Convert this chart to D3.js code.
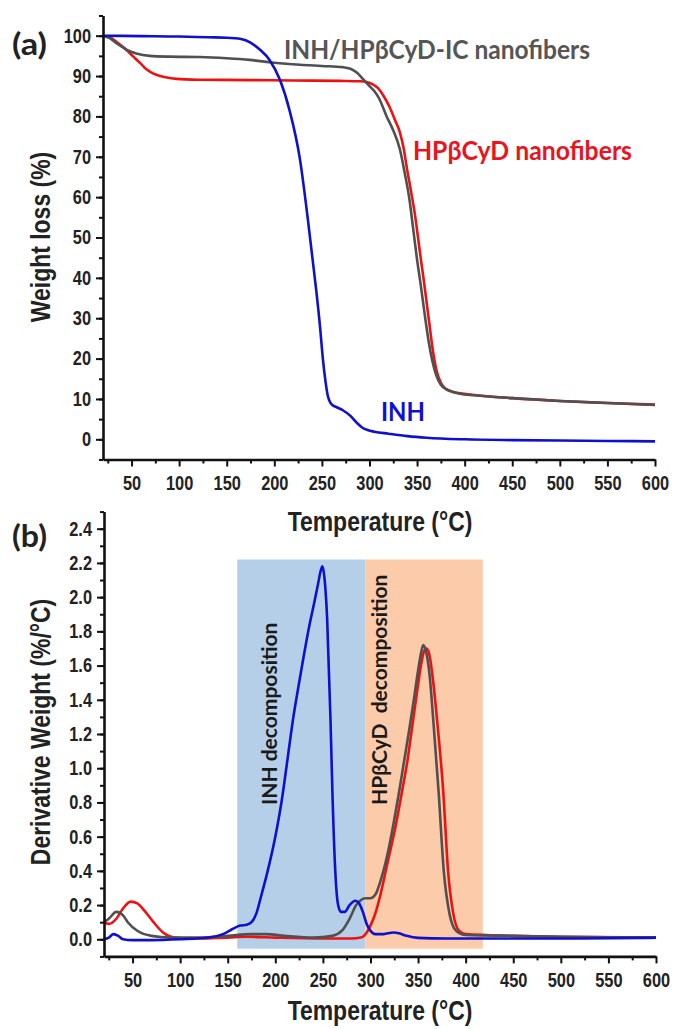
<!DOCTYPE html>
<html>
<head>
<meta charset="utf-8">
<script src="https://cdn.jsdelivr.net/npm/d3@7"></script>
<style>
body { margin: 0; background: #fff; }
svg { display: block; }
.axis path, .axis line { stroke: #111; }
.axis path { stroke-width: 2.6; }
.axis line { stroke-width: 2; }
.axis text { font-family: "Liberation Sans", Arial, sans-serif; font-size: 20px; font-weight: bold; fill: #222; }
.title { font-family: "Liberation Sans", Arial, sans-serif; font-size: 28px; font-weight: bold; fill: #222; }
.note { font-family: Lato, "Open Sans", sans-serif; font-weight: bold; }
.curve { fill: none; stroke-width: 2.6; stroke-linejoin: round; }
</style>
</head>
<body>
<div id="chart"></div>
<script>
var width = 674,
    height = 1029;

// narrow look of the original axis font
var squeeze = 0.82;

// ---- (a) TGA, weight (%) vs temperature
var inhTgaT = [20, 60, 100, 130, 150, 165, 175, 185, 195, 206, 216, 227, 235, 240, 244, 248, 251, 254, 256, 258, 261, 265, 272, 280, 287, 293, 298, 305, 320, 340, 360, 400, 450, 500, 550, 600];
var inhTgaW = [100, 99.9, 99.8, 99.6, 99.5, 99.2, 98.3, 96.5, 94, 89, 81.5, 69.3, 55, 45, 37, 28, 20, 14, 11, 9.5, 8.5, 8, 7.2, 5.8, 4, 2.8, 2.3, 1.9, 1.4, 0.8, 0.4, 0.0, -0.2, -0.3, -0.4, -0.5];

var hpTgaT = [20, 27, 34, 43, 52, 60, 66, 73, 80, 90, 97, 120, 174, 220, 269, 290, 297, 303, 309, 315, 321, 327, 332, 336, 339, 344, 348, 351, 354, 357, 360, 363, 366, 370, 375, 380, 387, 395, 410, 450, 500, 550, 600];
var hpTgaW = [100, 99.6, 98.5, 96.8, 94.8, 93, 91.6, 90.6, 90, 89.5, 89.3, 89.1, 89, 88.9, 88.8, 88.7, 88.5, 88, 87, 85, 82.4, 79, 76, 72, 67.6, 61, 55.3, 50, 44.6, 39.5, 34, 28.5, 23, 17.5, 14, 12.5, 11.8, 11.4, 11, 10.2, 9.5, 9, 8.6];

var icTgaT = [20, 27, 35, 45, 55, 69, 90, 122, 150, 174, 200, 227, 250, 272, 280, 287, 293, 300, 305, 310, 318, 325, 332, 337, 342, 346, 350, 354, 358, 362, 366, 370, 375, 380, 387, 395, 410, 450, 500, 550, 600];
var icTgaW = [100, 99.4, 98, 96.5, 95.6, 95, 94.8, 94.7, 94.4, 94, 93.3, 92.8, 92.5, 92.2, 91.8, 90.8, 89.3, 87.5, 86.3, 84.5, 80, 76.5, 71.8, 66, 59.4, 52, 44.5, 38, 31, 24.5, 19.5, 16, 13.5, 12.5, 11.8, 11.3, 10.9, 10.2, 9.5, 9, 8.5];

// ---- (b) DTG, derivative weight (%/°C)
var inhDtgT = [20, 25, 30, 35, 40, 50, 70, 100, 130, 145, 155, 163, 170, 175, 180, 185, 192, 200, 207, 213, 219, 225, 230, 236, 241, 245, 247.5, 249.5, 251.5, 254.5, 258, 260, 263, 266, 269, 273, 278, 284, 288, 292, 296, 300, 305, 312, 318, 324, 330, 338, 350, 380, 450, 520, 590, 600];
var inhDtgV = [0.0, 0.01, 0.03, 0.02, 0.0, -0.005, -0.005, 0.0, 0.01, 0.03, 0.06, 0.08, 0.085, 0.1, 0.15, 0.25, 0.4, 0.6, 0.82, 1.06, 1.3, 1.5, 1.66, 1.84, 1.97, 2.08, 2.15, 2.18, 2.12, 1.87, 1.28, 0.86, 0.4, 0.2, 0.16, 0.16, 0.2, 0.225, 0.21, 0.16, 0.09, 0.05, 0.03, 0.03, 0.035, 0.04, 0.035, 0.02, 0.008, 0.005, 0.005, 0.005, 0.008, 0.01];

var hpDtgT = [20, 25, 33, 40, 48, 55, 62, 72, 82, 95, 110, 150, 170, 200, 250, 280, 290, 296, 300, 305, 310, 318, 326, 333, 339, 344, 349, 353, 356, 359, 362, 366, 370, 376.5, 381.5, 387, 393, 400, 450, 500, 600];
var hpDtgV = [0.1, 0.09, 0.12, 0.18, 0.22, 0.21, 0.17, 0.1, 0.04, 0.01, 0.005, 0.01, 0.015, 0.01, 0.005, 0.005, 0.01, 0.04, 0.08, 0.15, 0.25, 0.45, 0.65, 0.86, 1.05, 1.25, 1.45, 1.6, 1.68, 1.70, 1.66, 1.5, 1.28, 0.86, 0.4, 0.15, 0.05, 0.03, 0.02, 0.015, 0.01];

var icDtgT = [20, 25, 33, 40, 45, 55, 70, 90, 120, 150, 175, 190, 210, 240, 260, 270, 278, 285, 290, 295, 300, 305, 311, 318, 325, 330, 335, 340, 345, 350, 353, 355.5, 358, 362, 366, 371.6, 377, 383, 390, 400, 450, 500, 550, 600];
var icDtgV = [0.1, 0.12, 0.16, 0.14, 0.1, 0.05, 0.02, 0.01, 0.01, 0.02, 0.03, 0.03, 0.02, 0.01, 0.02, 0.05, 0.12, 0.2, 0.23, 0.24, 0.24, 0.26, 0.35, 0.5, 0.7, 0.86, 1.03, 1.2, 1.38, 1.57, 1.67, 1.72, 1.69, 1.55, 1.28, 0.86, 0.4, 0.15, 0.05, 0.025, 0.02, 0.015, 0.012, 0.01];

// shaded regions in (b): [from, to] in °C
var inhBand = [160, 294.5];
var hpBand = [294.5, 418];
var bandRange = [-0.055, 2.22];

var xTicks = [50, 100, 150, 200, 250, 300, 350, 400, 450, 500, 550, 600];
var xMinor = d3.range(25, 600, 50);
var yaTicks = d3.range(0, 101, 10);
var yaMinor = d3.range(-5, 106, 5);
var ybTicks = [0, 0.2, 0.4, 0.6, 0.8, 1.0, 1.2, 1.4, 1.6, 1.8, 2.0, 2.2, 2.4];
var ybMinor = d3.range(-0.1, 2.51, 0.1);

var blue = "#1010cc",
    red = "#ee1111",
    gray = "#505050";

var svg = d3.select("#chart").append("svg")
    .attr("width", width)
    .attr("height", height);

svg.append("rect").attr("width", width).attr("height", height).attr("fill", "#fff");

var xa = d3.scaleLinear().domain([20, 600]).range([103, 655]);
var ya = d3.scaleLinear().domain([-5, 105]).range([459.5, 15.5]);
var xb = d3.scaleLinear().domain([20, 600]).range([104, 656]);
var yb = d3.scaleLinear().domain([-0.1, 2.5]).range([956.4, 511.6]);

function narrow(sel) {
    sel.selectAll("text")
        .attr("x", function() { return +this.getAttribute("x") / squeeze; })
        .attr("transform", "scale(" + squeeze + ",1)");
}

function drawAxes(x, y, yt, ym, fmt) {
    var y0 = y.range()[0],
        x0 = x.range()[0];
    // minor ticks first
    svg.append("g").attr("class", "axis minor")
        .attr("transform", "translate(0," + y0 + ")")
        .call(d3.axisBottom(x).tickValues(xMinor).tickSize(4).tickFormat(""))
        .select(".domain").remove();
    svg.append("g").attr("class", "axis minor")
        .attr("transform", "translate(" + x0 + ",0)")
        .call(d3.axisLeft(y).tickValues(ym).tickSize(4).tickFormat(""))
        .select(".domain").remove();

    svg.append("g").attr("class", "axis")
        .attr("transform", "translate(0," + y0 + ")")
        .call(d3.axisBottom(x).tickValues(xTicks).tickSize(7).tickSizeOuter(0).tickPadding(9))
        .call(narrow);
    svg.append("g").attr("class", "axis")
        .attr("transform", "translate(" + x0 + ",0)")
        .call(d3.axisLeft(y).tickValues(yt).tickSize(7).tickSizeOuter(0).tickPadding(5).tickFormat(fmt))
        .call(narrow);
}

function curve(x, y, ts, vs, color) {
    var line = d3.line()
        .x(function(d) { return x(d[0]); })
        .y(function(d) { return y(d[1]); })
        .curve(d3.curveMonotoneX);
    svg.append("path")
        .datum(d3.zip(ts, vs))
        .attr("class", "curve")
        .attr("stroke", color)
        .attr("d", line);
}

function note(x, y, size, color, len, txt) {
    return svg.append("text").attr("class", "note")
        .attr("x", x).attr("y", y)
        .attr("font-size", size).attr("fill", color)
        .attr("textLength", len).attr("lengthAdjust", "spacingAndGlyphs")
        .text(txt);
}

// ---------- panel (a)
curve(xa, ya, hpTgaT, hpTgaW, red);
curve(xa, ya, icTgaT, icTgaW, gray);
curve(xa, ya, inhTgaT, inhTgaW, blue);
drawAxes(xa, ya, yaTicks, yaMinor, d3.format("d"));

svg.append("text").attr("class", "title")
    .attr("transform", "translate(50,237) rotate(-90) scale(" + squeeze + ",1)")
    .attr("text-anchor", "middle")
    .text("Weight loss (%)");
svg.append("text").attr("class", "title")
    .attr("transform", "translate(380,531) scale(" + squeeze + ",1)")
    .attr("text-anchor", "middle")
    .text("Temperature (°C)");

note(12, 55, 31, "#222", 35, "(a)");
note(284, 59, 26, "#555", 306, "INH/HPβCyD-IC nanofibers");
note(413, 160, 26, "#e8141e", 219, "HPβCyD nanofibers");
note(381, 421, 26, "#1010d0", 44, "INH");

// ---------- panel (b)
svg.append("rect")
    .attr("x", xb(inhBand[0])).attr("y", yb(bandRange[1]))
    .attr("width", xb(inhBand[1]) - xb(inhBand[0]))
    .attr("height", yb(bandRange[0]) - yb(bandRange[1]))
    .attr("fill", "#b5cfe9");
svg.append("rect")
    .attr("x", xb(hpBand[0])).attr("y", yb(bandRange[1]))
    .attr("width", xb(hpBand[1]) - xb(hpBand[0]))
    .attr("height", yb(bandRange[0]) - yb(bandRange[1]))
    .attr("fill", "#fccbaa");

svg.append("text").attr("class", "note")
    .attr("transform", "translate(277,805) rotate(-90)")
    .attr("font-size", 21).attr("fill", "#1a1a1a")
    .text("INH decomposition");
svg.append("text").attr("class", "note")
    .attr("transform", "translate(387,805) rotate(-90)")
    .attr("font-size", 21).attr("fill", "#1a1a1a")
    .style("white-space", "pre")
    .text("HPβCyD  decomposition");

curve(xb, yb, hpDtgT, hpDtgV, red);
curve(xb, yb, icDtgT, icDtgV, gray);
curve(xb, yb, inhDtgT, inhDtgV, blue);
drawAxes(xb, yb, ybTicks, ybMinor, d3.format(".1f"));

svg.append("text").attr("class", "title")
    .attr("transform", "translate(50,732) rotate(-90) scale(" + squeeze + ",1)")
    .attr("text-anchor", "middle")
    .text("Derivative Weight (%/°C)");
svg.append("text").attr("class", "title")
    .attr("transform", "translate(380,1020) scale(" + squeeze + ",1)")
    .attr("text-anchor", "middle")
    .text("Temperature (°C)");

note(12, 547, 31, "#222", 35, "(b)");
</script>
</body>
</html>
